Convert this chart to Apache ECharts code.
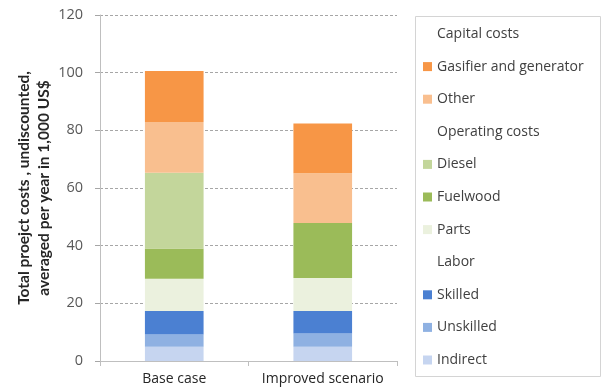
<!DOCTYPE html>
<html>
<head>
<meta charset="utf-8">
<script src="https://cdn.jsdelivr.net/npm/echarts@6/dist/echarts.min.js"></script>
<style>
  html, body { margin: 0; padding: 0; background: #fff; }
  #chart { width: 602px; height: 391px; }
</style>
</head>
<body>
<div id="chart"></div>
<script>
// Average yearly project costs (1,000 US$) per scenario
var categories = ['Base case', 'Improved scenario'];

var indirect  = [4.9, 4.9];
var unskilled = [4.3, 4.6];
var skilled   = [8.1, 7.8];
var parts     = [11.2, 11.5];
var fuelwood  = [10.5, 19.1];
var diesel    = [26.3, 0];
var other     = [17.6, 17.2];
var gasifier  = [17.7, 17.3];

var yTicks = { min: 0, max: 120, interval: 20 };

var FONT = '"Open Sans", Lato, sans-serif';
var TITLE_FONT = 'Lato, "Open Sans", sans-serif';

function seg(name, data, color) {
  return {
    name: name,
    type: 'bar',
    stack: 'total',
    barWidth: '39.5%',
    data: data,
    itemStyle: { color: color },
    emphasis: { disabled: true }
  };
}

// group headings shown in the legend only
function heading(name) {
  return {
    name: name,
    type: 'bar',
    stack: 'total',
    data: [],
    itemStyle: { color: 'rgba(0,0,0,0)' }
  };
}

var chart = echarts.init(document.getElementById('chart'), null, { renderer: 'canvas' });

chart.setOption({
  animation: false,
  backgroundColor: '#ffffff',
  textStyle: { fontFamily: FONT },
  grid: { left: 100, right: 205, top: 15, bottom: 30 },
  graphic: [{
    type: 'rect',
    shape: { x: 415.5, y: 16.5, width: 185, height: 360 },
    style: { fill: 'none', stroke: '#D4D4D4', lineWidth: 1 },
    silent: true
  }],
  legend: {
    orient: 'vertical',
    left: 423,
    top: 26,
    padding: 0,
    itemWidth: 9,
    itemHeight: 9,
    itemGap: 16.6,
    icon: 'rect',
    selectedMode: false,
    textStyle: { fontFamily: FONT, fontSize: 14, color: '#404040', lineHeight: 16 },
    data: ['Capital costs', 'Gasifier and generator', 'Other',
           'Operating costs', 'Diesel', 'Fuelwood', 'Parts',
           'Labor', 'Skilled', 'Unskilled', 'Indirect']
  },
  xAxis: {
    type: 'category',
    data: categories,
    axisLine: { lineStyle: { color: '#BFBFBF' } },
    axisTick: { show: true, length: 5, lineStyle: { color: '#BFBFBF' } },
    axisLabel: { interval: 0, fontFamily: FONT, fontSize: 14, color: '#262626', margin: 11 }
  },
  yAxis: {
    type: 'value',
    min: yTicks.min,
    max: yTicks.max,
    interval: yTicks.interval,
    name: 'Total proejct costs , undiscounted,\naveraged per year in 1,000 US$',
    nameLocation: 'middle',
    nameRotate: 90,
    nameGap: 44,
    nameTextStyle: { fontFamily: TITLE_FONT, fontSize: 15.5, fontWeight: 'bold', color: '#262626', lineHeight: 20, align: 'center' },
    axisLine: { show: true, lineStyle: { color: '#BFBFBF' } },
    axisTick: { show: true, length: 5, lineStyle: { color: '#A6A6A6' } },
    axisLabel: { fontFamily: FONT, fontSize: 14.5, color: '#595959', margin: 17 },
    splitLine: { show: true, lineStyle: { color: '#A6A6A6', type: [3, 2], width: 1 } }
  },
  series: [
    seg('Indirect', indirect, '#C6D5F0'),
    seg('Unskilled', unskilled, '#8FB1E2'),
    seg('Skilled', skilled, '#4B80D2'),
    seg('Parts', parts, '#EBF1DE'),
    seg('Fuelwood', fuelwood, '#9BBB59'),
    seg('Diesel', diesel, '#C3D69B'),
    seg('Other', other, '#F9BF8F'),
    seg('Gasifier and generator', gasifier, '#F79646'),
    heading('Capital costs'),
    heading('Operating costs'),
    heading('Labor')
  ]
});
</script>
</body>
</html>
